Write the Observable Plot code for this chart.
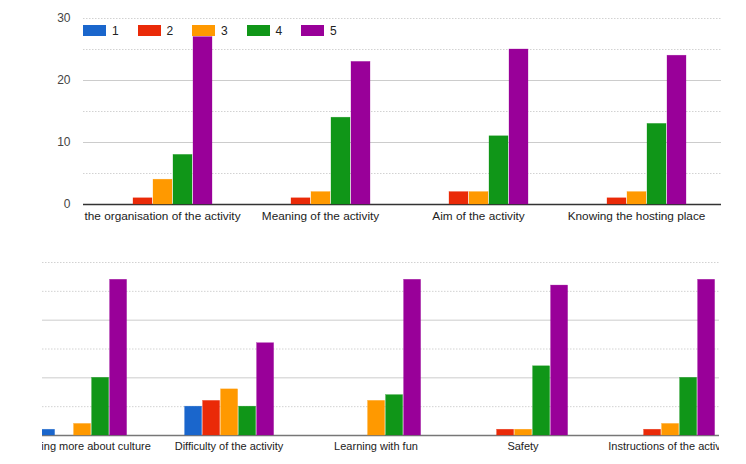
<!DOCTYPE html>
<html>
<head>
<meta charset="utf-8">
<script src="https://cdn.jsdelivr.net/npm/d3@7"></script>
<script src="https://cdn.jsdelivr.net/npm/@observablehq/plot@0.6"></script>
<style>
  body { margin: 0; background: #fff; font-family: Arial, "Liberation Sans", sans-serif; }
  #root { position: relative; width: 746px; height: 464px; overflow: hidden; background: #fff; }
  .panel { position: absolute; left: 0; width: 746px; height: 232px; }
  .layer { position: absolute; left: 0; top: 0; }
  .clip { position: absolute; top: 0; height: 232px; overflow: hidden; }
  .legend { position: absolute; left: 83px; top: 25px; display: flex; font-size: 12px; color: #222; }
  .legend .item { display: flex; align-items: center; width: 54.5px; height: 11px; }
  .legend .sw { width: 23px; height: 11px; margin-right: 6px; box-sizing: border-box; }
</style>
</head>
<body>
<div id="root"></div>
<script>
// ---- data ----
const seriesNames = ["1", "2", "3", "4", "5"];
const seriesColors = ["#1a66cc", "#ea2a08", "#ff9900", "#109618", "#990099"];

const topCategories = ["the organisation of the activity", "Meaning of the activity", "Aim of the activity", "Knowing the hosting place"];
const top1 = [0, 0, 0, 0];
const top2 = [1, 1, 2, 1];
const top3 = [4, 2, 2, 2];
const top4 = [8, 14, 11, 13];
const top5 = [27, 23, 25, 24];

const bottomCategories = ["Learning more about culture", "Difficulty of the activity", "Learning with fun", "Safety", "Instructions of the activity"];
const bot1 = [1, 5, 0, 0, 0];
const bot2 = [0, 6, 0, 1, 1];
const bot3 = [2, 8, 6, 1, 2];
const bot4 = [10, 5, 7, 12, 10];
const bot5 = [27, 16, 27, 26, 27];

const yDomain = [0, 30];
const yTickLabels = [0, 10, 20, 30];
const gridSolid = [10, 20];
const gridDotted = [5, 15, 25, 30];

function table(cats, series) {
  return cats.flatMap((c, i) => series.map((s, j) => ({category: c, series: seriesNames[j], value: s[i]})));
}

const baseStyle = {fontFamily: "Arial, 'Liberation Sans', sans-serif", background: "none", overflow: "visible", maxWidth: "none"};

function panel(opts) {
  const {top, cats, data, left, right, mt, mb, facetStart, facetStep, pi, po, showY, baseColor, labelSize} = opts;
  const div = document.createElement("div");
  div.className = "panel";
  div.style.top = top + "px";

  const frame = Plot.plot({
    width: 746, height: 232,
    marginLeft: left, marginRight: 746 - right, marginTop: mt, marginBottom: mb,
    y: {domain: yDomain, ticks: showY ? yTickLabels : [], tickSize: 0, tickPadding: 13, label: null, axis: showY ? "left" : null},
    marks: [
      Plot.ruleY(gridDotted, {stroke: "#d2d2d2", strokeDasharray: "1.5,1.5"}),
      Plot.ruleY(gridSolid, {stroke: "#cccccc"}),
      Plot.ruleY([0], {stroke: baseColor, strokeWidth: 1.4})
    ],
    style: {...baseStyle, fontSize: "12px", color: "#444"}
  });
  frame.classList.add("layer");
  div.appendChild(frame);

  const clip = document.createElement("div");
  clip.className = "clip";
  clip.style.left = left + "px";
  clip.style.width = (right - left) + "px";
  const bars = Plot.plot({
    width: 746, height: 232,
    marginLeft: facetStart, marginRight: 746 - facetStart - facetStep * cats.length,
    marginTop: mt, marginBottom: mb,
    fx: {domain: cats, padding: 0, axis: "bottom", tickSize: 0, tickPadding: 7, label: null},
    x: {domain: seriesNames, paddingInner: pi, paddingOuter: po, axis: null},
    y: {domain: yDomain, axis: null},
    color: {domain: seriesNames, range: seriesColors},
    marks: [
      Plot.barY(data.filter(d => d.value > 0), {fx: "category", x: "series", y: "value", fill: "series", stroke: "series", strokeOpacity: 0.6, strokeWidth: 0.5})
    ],
    style: {...baseStyle, fontSize: labelSize, color: "#222"}
  });
  bars.classList.add("layer");
  bars.style.left = (-left) + "px";
  clip.appendChild(bars);
  div.appendChild(clip);
  return div;
}

const root = document.getElementById("root");
root.appendChild(panel({
  top: 0, cats: topCategories, data: table(topCategories, [top1, top2, top3, top4, top5]),
  left: 83, right: 721, mt: 18, mb: 28, facetStart: 83, facetStep: 158, pi: 0.05, po: 1.475,
  showY: true, baseColor: "#333", labelSize: "11.8px"
}));
root.appendChild(panel({
  top: 232, cats: bottomCategories, data: table(bottomCategories, [bot1, bot2, bot3, bot4, bot5]),
  left: 42, right: 719, mt: 30, mb: 29, facetStart: 7.4, facetStep: 147.25, pi: 0.08, po: 1.54,
  showY: false, baseColor: "#777", labelSize: "11px"
}));

// legend
const legend = document.createElement("div");
legend.className = "legend";
seriesNames.forEach((name, i) => {
  const item = document.createElement("div");
  item.className = "item";
  const sw = document.createElement("div");
  sw.className = "sw";
  sw.style.background = seriesColors[i];
  const t = document.createElement("span");
  t.textContent = name;
  item.appendChild(sw);
  item.appendChild(t);
  legend.appendChild(item);
});
root.appendChild(legend);
</script>
</body>
</html>
